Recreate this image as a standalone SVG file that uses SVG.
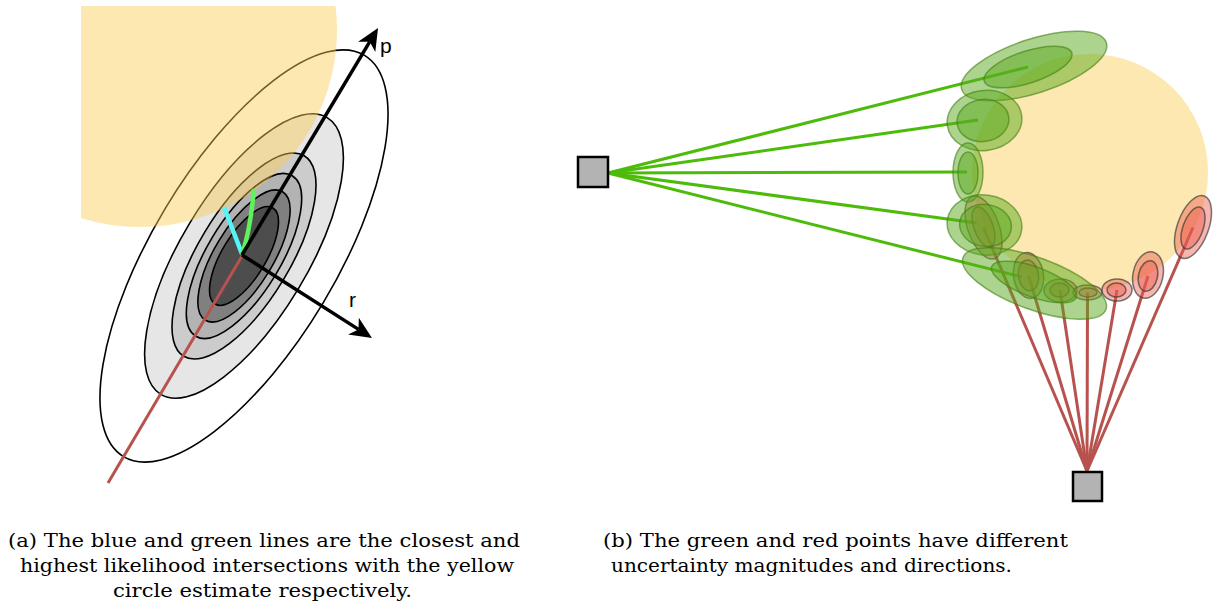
<svg xmlns="http://www.w3.org/2000/svg" width="1217" height="610" viewBox="0 0 1217 610">
<style>
.cov{stroke:#000;stroke-width:1.6}
.yel{fill:#facd52;fill-opacity:0.45}
.axis{stroke:#000;stroke-width:3.5;fill:none}
.lbl{font-family:"Liberation Sans",Arial,sans-serif;font-size:21px;fill:#000}
.cap{font-family:"DejaVu Serif","Liberation Serif",serif;font-size:19px;fill:#000}
.gl{stroke:#4cbb0a;stroke-width:3;fill:none}
.rl{stroke:#b8524e;stroke-width:3;fill:none}
.ge{fill:#5aaa1e;fill-opacity:0.5;stroke:#3f7f10;stroke-opacity:0.6;stroke-width:1.5}
.re{fill:#ea5a4e;fill-opacity:0.45;stroke:#333;stroke-opacity:0.65;stroke-width:1.5}
.sq{fill:#b3b3b3;stroke:#000;stroke-width:2.5}
</style>
<defs>
<clipPath id="clipA"><rect x="81" y="6" width="400" height="400"/></clipPath>
<marker id="ah" markerUnits="userSpaceOnUse" markerWidth="24" markerHeight="22" refX="6" refY="11" orient="auto" overflow="visible">
<path d="M 22 11 L 0 1 L 6 11 L 0 21 Z" fill="#000"/>
</marker>
</defs>

<!-- Panel (a) -->
<g id="covariance">
<g transform="translate(244 256) rotate(31)">
<ellipse class="cov" fill="none" rx="92" ry="234"/>
<ellipse class="cov" fill="#e6e6e6" rx="63.5" ry="161.5"/>
<ellipse class="cov" fill="#cccccc" rx="46" ry="117"/>
<ellipse class="cov" fill="#b3b3b3" rx="36.8" ry="93.6"/>
<ellipse class="cov" fill="#808080" rx="29.4" ry="74.9"/>
<ellipse class="cov" fill="#4d4d4d" rx="22" ry="56"/>
</g>
</g>
<g id="yellow-circle-a" clip-path="url(#clipA)">
<circle class="yel" cx="140" cy="30" r="197"/>
</g>
<g id="connectors-a">
<line class="rl" x1="242" y1="256" x2="108" y2="483" stroke-width="3.5"/>
<line x1="242" y1="254" x2="224" y2="207" stroke="#55f5f7" stroke-width="4.5"/>
<path d="M 242 254 Q 250 232 254 189" stroke="#5ef25e" stroke-width="4.5" fill="none"/>
<line class="axis" x1="242" y1="255" x2="369.8" y2="41.7" marker-end="url(#ah)"/>
<line class="axis" x1="242" y1="255" x2="358.5" y2="329.4" marker-end="url(#ah)"/>
</g>
<g id="label-p"><text class="lbl" x="380" y="53">p</text></g>
<g id="label-r"><text class="lbl" x="349" y="307">r</text></g>

<!-- Panel (b) -->
<g id="yellow-circle-b">
<circle class="yel" cx="1090" cy="172" r="118"/>
</g>
<g id="connectors-b">
<line class="gl" x1="608" y1="173" x2="1028" y2="67"/>
<line class="gl" x1="608" y1="173" x2="978" y2="120"/>
<line class="gl" x1="608" y1="173" x2="967" y2="172"/>
<line class="gl" x1="608" y1="173" x2="977" y2="223"/>
<line class="gl" x1="608" y1="173" x2="1022" y2="277"/>
<line class="rl" x1="1087" y1="471" x2="983.5" y2="227.5"/>
<line class="rl" x1="1087" y1="471" x2="1028.5" y2="275.5"/>
<line class="rl" x1="1087" y1="471" x2="1060" y2="290"/>
<line class="rl" x1="1087" y1="471" x2="1087.5" y2="292.5"/>
<line class="rl" x1="1087" y1="471" x2="1117" y2="290"/>
<line class="rl" x1="1087" y1="471" x2="1148" y2="276"/>
<line class="rl" x1="1087" y1="471" x2="1193" y2="227.5"/>
</g>
<g id="red-points">
<g id="r1"><ellipse class="re" cx="983.5" cy="227.5" rx="15.6" ry="33" transform="rotate(-20 983.5 227.5)"/><ellipse class="re" cx="983.5" cy="227" rx="9.5" ry="21" transform="rotate(-20 983.5 227)"/></g>
<g id="r2"><ellipse class="re" cx="1028.5" cy="275.5" rx="15" ry="23" transform="rotate(-8 1028.5 275.5)"/><ellipse class="re" cx="1028.5" cy="275.5" rx="10" ry="15.5" transform="rotate(-8 1028.5 275.5)"/></g>
<g id="r3"><ellipse class="re" cx="1060.5" cy="290.5" rx="16.5" ry="11.5"/><ellipse class="re" cx="1059.5" cy="290" rx="9.5" ry="7"/></g>
<g id="r4"><ellipse class="re" cx="1087.5" cy="292.5" rx="14.5" ry="7.5"/><ellipse class="re" cx="1088" cy="292.5" rx="9" ry="4.5"/></g>
<g id="r5"><ellipse class="re" cx="1117" cy="290" rx="15" ry="11"/><ellipse class="re" cx="1116.5" cy="290" rx="9.5" ry="7"/></g>
<g id="r6"><ellipse class="re" cx="1148" cy="275" rx="15" ry="23.5" transform="rotate(12 1148 275)"/><ellipse class="re" cx="1148" cy="276" rx="9.5" ry="15.5" transform="rotate(12 1148 276)"/></g>
<g id="r7"><ellipse class="re" cx="1193" cy="227" rx="15.6" ry="33" transform="rotate(20 1193 227)"/><ellipse class="re" cx="1193" cy="228" rx="10" ry="22" transform="rotate(20 1193 228)"/></g>
</g>
<g id="green-points">
<g id="g1"><ellipse class="ge" cx="1034" cy="66" rx="76" ry="27" transform="rotate(-18 1034 66)"/><ellipse class="ge" cx="1028" cy="67" rx="46" ry="16" transform="rotate(-18 1028 67)"/></g>
<g id="g2"><ellipse class="ge" cx="984.5" cy="120.5" rx="37.5" ry="30" transform="rotate(-8 984.5 120.5)"/><ellipse class="ge" cx="983" cy="120.5" rx="26" ry="21" transform="rotate(-8 983 120.5)"/></g>
<g id="g3"><ellipse class="ge" cx="968" cy="172.5" rx="15" ry="29.5"/><ellipse class="ge" cx="968" cy="173" rx="10" ry="21"/></g>
<g id="g4"><ellipse class="ge" cx="984.5" cy="225" rx="37.5" ry="30" transform="rotate(8 984.5 225)"/><ellipse class="ge" cx="985.5" cy="225.5" rx="26" ry="21" transform="rotate(8 985.5 225.5)"/></g>
<g id="g5"><ellipse class="ge" cx="1034.5" cy="283.5" rx="76" ry="26" transform="rotate(20 1034.5 283.5)"/><ellipse class="ge" cx="1034" cy="282" rx="45" ry="15" transform="rotate(20 1034 282)"/></g>
</g>
<g id="sensor-left"><rect class="sq" x="578" y="157" width="30" height="30"/></g>
<g id="sensor-bottom"><rect class="sq" x="1073" y="472" width="29" height="29"/></g>

<!-- Captions -->
<g id="caption-a">
<text class="cap" x="8" y="547" textLength="512" lengthAdjust="spacingAndGlyphs">(a) The blue and green lines are the closest and</text>
<text class="cap" x="20" y="572" textLength="494" lengthAdjust="spacingAndGlyphs">highest likelihood intersections with the yellow</text>
<text class="cap" x="113" y="597" textLength="299" lengthAdjust="spacingAndGlyphs">circle estimate respectively.</text>
</g>
<g id="caption-b">
<text class="cap" x="603" y="547" textLength="465" lengthAdjust="spacingAndGlyphs">(b) The green and red points have different</text>
<text class="cap" x="611" y="572" textLength="401" lengthAdjust="spacingAndGlyphs">uncertainty magnitudes and directions.</text>
</g>
</svg>
